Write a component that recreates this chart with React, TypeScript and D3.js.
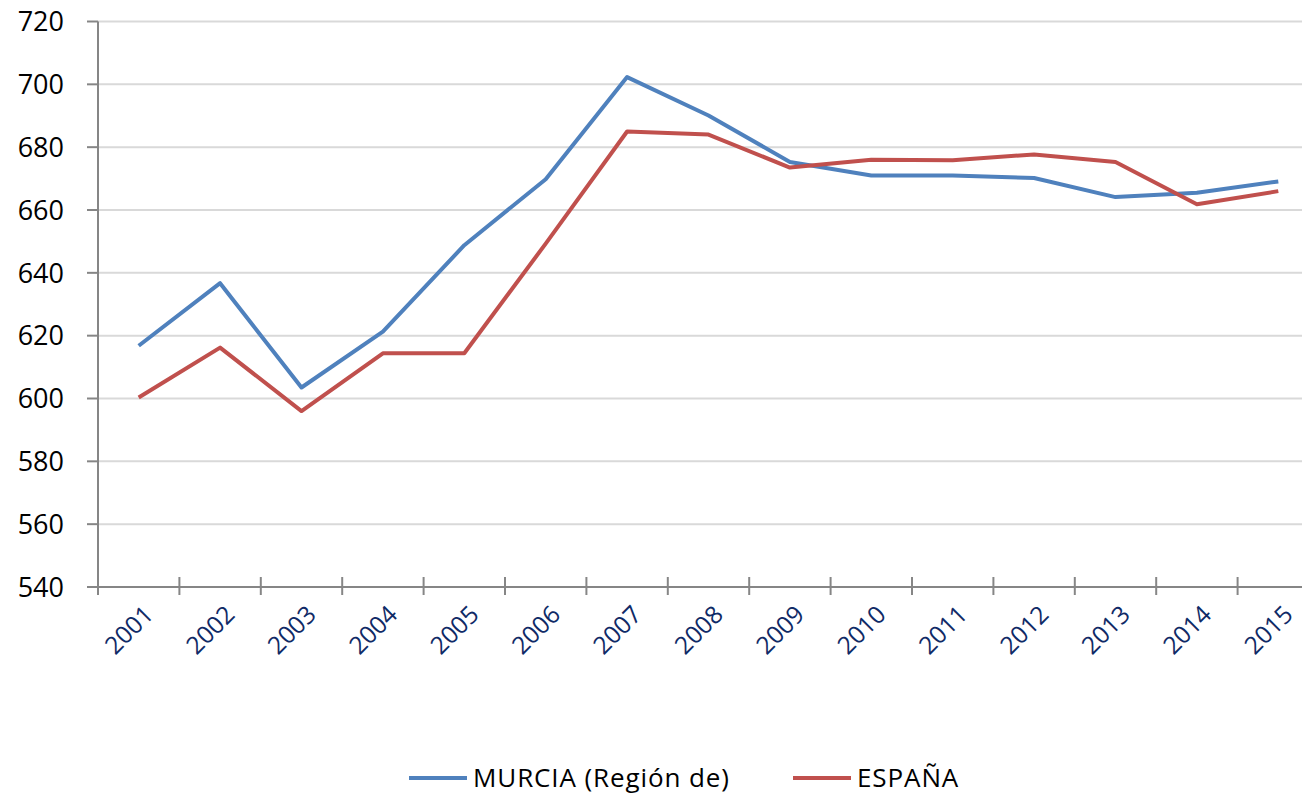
import React, { useEffect, useRef } from 'react';
import * as d3 from 'd3';

const years = ['2001', '2002', '2003', '2004', '2005', '2006', '2007', '2008', '2009', '2010', '2011', '2012', '2013', '2014', '2015'];
const murcia = [616.8, 636.7, 603.5, 621.3, 648.8, 669.8, 702.3, 690.1, 675.3, 671, 671, 670.2, 664.1, 665.5, 669.1];
const espana = [600.3, 616.2, 596, 614.4, 614.4, 649.3, 685, 684, 673.5, 676, 675.8, 677.7, 675.3, 661.8, 666];
const yTicks = [540, 560, 580, 600, 620, 640, 660, 680, 700, 720];

const seriesNames = ['MURCIA (Región de)', 'ESPAÑA'];
const seriesColors = ['#4F81BD', '#C0504D'];

const FONT = '"Open Sans", sans-serif';

export default function App() {
  const ref = useRef<SVGSVGElement | null>(null);

  useEffect(() => {
    if (!ref.current) return;
    const svg = d3.select(ref.current);
    svg.selectAll('*').remove();

    const left = 98;
    const right = 1319;
    const top = 21.5;
    const bottom = 587;

    const x = d3.scaleBand<string>().domain(years).range([left, right]);
    const y = d3.scaleLinear().domain([540, 720]).range([bottom, top]);

    // gridlines
    svg.append('g')
      .selectAll('line')
      .data(yTicks.filter(t => t !== 540))
      .enter()
      .append('line')
      .attr('x1', left)
      .attr('x2', 1302)
      .attr('y1', d => y(d))
      .attr('y2', d => y(d))
      .attr('stroke', '#D9D9D9')
      .attr('stroke-width', 2);

    // y axis
    const yAxis = svg.append('g');
    yAxis.append('line')
      .attr('x1', left).attr('x2', left)
      .attr('y1', top).attr('y2', bottom + 8)
      .attr('stroke', '#868686').attr('stroke-width', 2);
    yAxis.selectAll('line.tick')
      .data(yTicks)
      .enter()
      .append('line')
      .attr('class', 'tick')
      .attr('x1', left - 11).attr('x2', left)
      .attr('y1', d => y(d)).attr('y2', d => y(d))
      .attr('stroke', '#868686').attr('stroke-width', 2);
    yAxis.selectAll('text')
      .data(yTicks)
      .enter()
      .append('text')
      .attr('x', 64)
      .attr('y', d => y(d))
      .attr('dy', '0.36em')
      .attr('text-anchor', 'end')
      .style('font-family', FONT)
      .style('font-size', '27px')
      .style('fill', '#000')
      .text(d => d);

    // x axis
    const xAxis = svg.append('g');
    xAxis.append('line')
      .attr('x1', left).attr('x2', 1302)
      .attr('y1', bottom).attr('y2', bottom)
      .attr('stroke', '#868686').attr('stroke-width', 2);
    xAxis.selectAll('line.tick')
      .data(years.slice(1))
      .enter()
      .append('line')
      .attr('class', 'tick')
      .attr('x1', d => x(d)!).attr('x2', d => x(d)!)
      .attr('y1', bottom - 10).attr('y2', bottom + 8)
      .attr('stroke', '#868686').attr('stroke-width', 2);
    xAxis.selectAll('text')
      .data(years)
      .enter()
      .append('text')
      .attr('transform', d => `translate(${x(d)! + x.bandwidth() / 2 + 4},${bottom + 17}) rotate(-45)`)
      .attr('text-anchor', 'end')
      .attr('dy', '0.7em')
      .style('font-family', FONT)
      .style('font-size', '24.5px')
      .style('fill', '#0F2A66')
      .text(d => d);

    // lines
    const line = d3.line<number>()
      .x((_, i) => x(years[i])! + x.bandwidth() / 2)
      .y(d => y(d));
    [murcia, espana].forEach((vals, i) => {
      svg.append('path')
        .datum(vals)
        .attr('d', line)
        .attr('fill', 'none')
        .attr('stroke', seriesColors[i])
        .attr('stroke-width', 4)
        .attr('stroke-linejoin', 'round');
    });

    // legend
    const legendX = [409, 793];
    const legend = svg.append('g');
    seriesNames.forEach((name, i) => {
      legend.append('line')
        .attr('x1', legendX[i]).attr('x2', legendX[i] + 58)
        .attr('y1', 778).attr('y2', 778)
        .attr('stroke', seriesColors[i]).attr('stroke-width', 4);
      legend.append('text')
        .attr('x', legendX[i] + 64)
        .attr('y', 778)
        .attr('dy', '0.36em')
        .style('font-family', FONT)
        .style('font-size', '26px')
        .style('letter-spacing', '0.9px')
        .style('fill', '#000')
        .text(name);
    });
  }, []);

  return (
    <svg
      ref={ref}
      width={1302}
      height={797}
      style={{ position: 'absolute', left: 0, top: 0, background: '#fff' }}
    />
  );
}
